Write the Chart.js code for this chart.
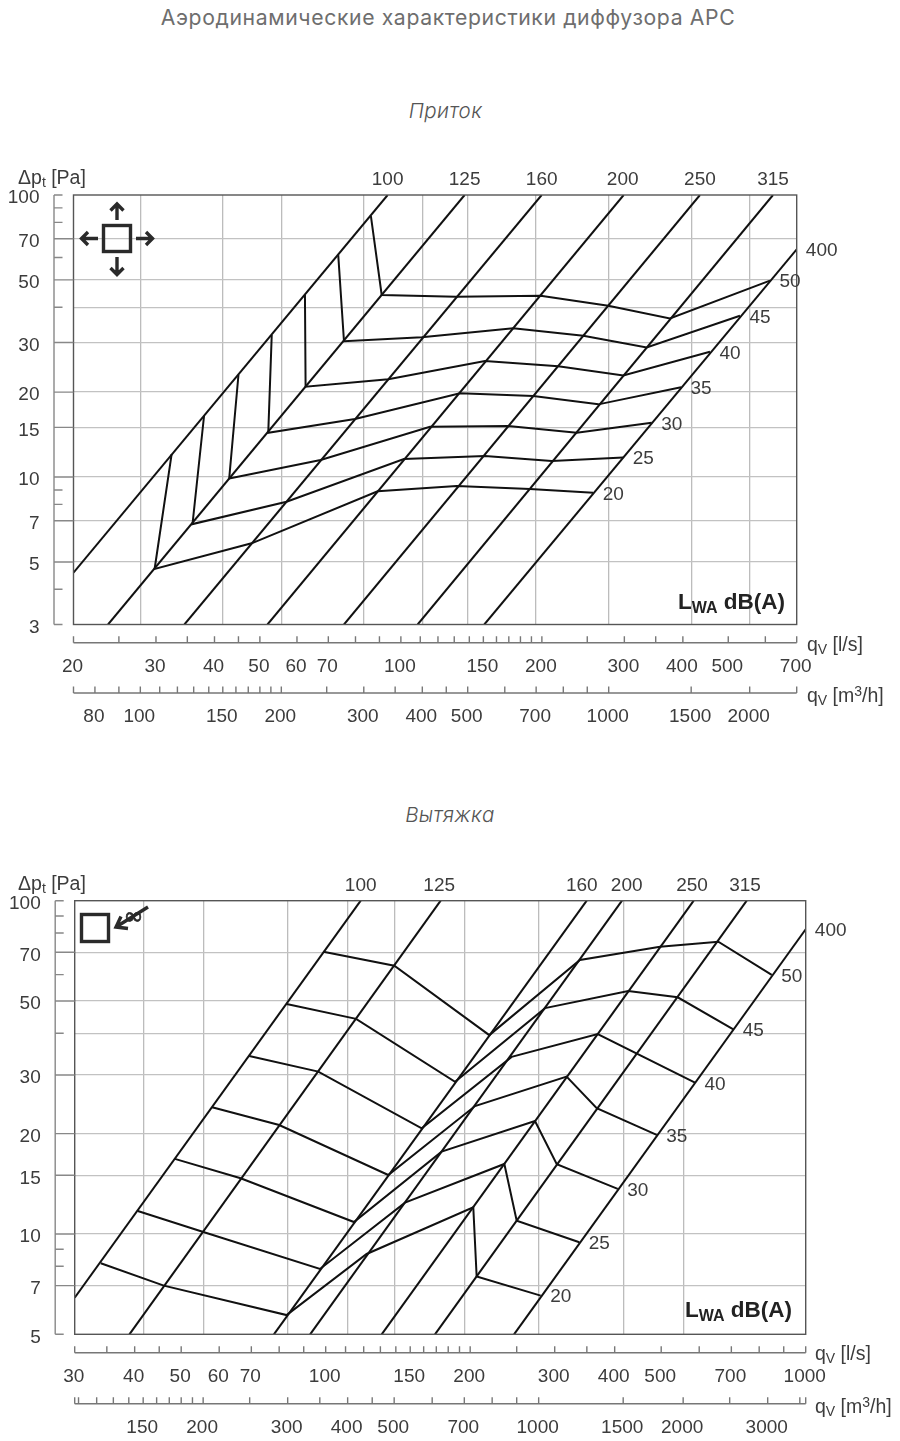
<!DOCTYPE html>
<html lang="ru">
<head>
<meta charset="utf-8">
<title>Аэродинамические характеристики диффузора АРС</title>
<script src="https://cdn.jsdelivr.net/npm/chart.js@4/dist/chart.umd.min.js"></script>
<style>
  html, body { margin: 0; padding: 0; background: #fff; }
  body { position: relative; width: 900px; height: 1441px; overflow: hidden; }
  canvas { position: absolute; left: 0; }
  #supplyChart { top: 150px; }
  #exhaustChart { top: 860px; }
  h1, h2 { position: absolute; left: 0; margin: 0; text-align: center; color: #6e6e6e; font-family: Inter, sans-serif; }
  h1 { top: 5px; width: 896px; font-size: 21.2px; line-height: 24px; font-weight: 400; letter-spacing: 0.62px; }
  h2 { font-size: 20.5px; line-height: 22px; font-weight: 300; font-style: italic; color: #555; letter-spacing: 0.4px; }
  .lbl { position: absolute; font: 19.5px/18px "Liberation Sans", sans-serif; color: #3c3c3c; white-space: nowrap; }
  .lbl sub { font-size: 14px; line-height: 0; vertical-align: -3px; }
  .lbl sup { font-size: 14px; line-height: 0; vertical-align: 6px; }
  .lwa { font-weight: bold; font-size: 22.5px; line-height: 21px; color: #222; }
  .lwa sub { font-size: 16px; vertical-align: -4px; }
  svg { position: absolute; left: 0; top: 0; }
</style>
</head>
<body>
<h1>Аэродинамические характеристики диффузора АРС</h1>
<h2 style="top:100px;width:891px">Приток</h2>
<h2 style="top:804px;width:900px">Вытяжка</h2>

<canvas id="supplyChart" width="900" height="590"></canvas>
<canvas id="exhaustChart" width="900" height="581"></canvas>

<div class="lbl" style="left:18px;top:168px">Δp<sub>t</sub> [Pa]</div>
<div class="lbl" style="left:807px;top:635px">q<sub>V</sub> [l/s]</div>
<div class="lbl" style="left:807px;top:686px">q<sub>V</sub> [m<sup>3</sup>/h]</div>
<div class="lbl lwa" style="left:678px;top:591px">L<sub>WA</sub> dB(A)</div>

<div class="lbl" style="left:18px;top:874px">Δp<sub>t</sub> [Pa]</div>
<div class="lbl" style="left:815px;top:1344px">q<sub>V</sub> [l/s]</div>
<div class="lbl" style="left:815px;top:1397px">q<sub>V</sub> [m<sup>3</sup>/h]</div>
<div class="lbl lwa" style="left:685px;top:1299px">L<sub>WA</sub> dB(A)</div>

<svg width="900" height="1441" fill="none" stroke="#2a2a2a" stroke-width="3.4">
  <rect x="103.500" y="225.500" width="27" height="26"/>
  <path d="M117 220V204M110.500 210.500l6.500-6.500 6.500 6.500M117 257V274M110.500 268l6.500 6.500 6.500-6.500M98 238.500H81.500M88 232l-6.500 6.500 6.500 6.500M136 238.500H152.500M146 232l6.500 6.500-6.500 6.500"/>
  <rect x="81.500" y="914.500" width="27" height="27"/>
  <path d="M148 907L116 927M128 928.500L116 927L121 916.500"/>
  <text x="123.500" y="923.500" font-family="DejaVu Sans" font-size="24" fill="#2a2a2a" stroke="#2a2a2a" stroke-width="0.6">∞</text>
</svg>

<script>
// ---- Приток: l/s and Pa
const supplyDuctLabels = ['100', '125', '160', '200', '250', '315', '400'];
const supplyDuct100 = [[20, 4.58], [93.7, 100]];
const supplyDuct125 = [[23.7, 3], [136.8, 100]];
const supplyDuct160 = [[34.5, 3], [199.8, 100]];
const supplyDuct200 = [[51.9, 3], [299, 100]];
const supplyDuct250 = [[75.6, 3], [435, 100]];
const supplyDuct315 = [[108.6, 3], [623, 100]];
const supplyDuct400 = [[150.7, 3], [700, 64.2]];

const supplyDbLabels = ['20', '25', '30', '35', '40', '45', '50'];
const supplyDb20 = [[32.4, 12.06], [29.8, 4.72], [48, 5.82], [89.2, 8.9], [131.6, 9.29], [188.6, 9.07], [257.4, 8.8]];
const supplyDb25 = [[38, 16.49], [35.9, 6.81], [57, 8.17], [101.5, 11.58], [151.2, 11.87], [209.9, 11.4], [298.5, 11.74]];
const supplyDb30 = [[45, 23], [43, 9.89], [67.4, 11.49], [115.4, 15.08], [169.5, 15.17], [237.4, 14.36], [343.2, 15.58]];
const supplyDb35 = [[53, 31.9], [52.1, 14.36], [79.8, 16.06], [133.7, 19.81], [191.7, 19.37], [264, 18.1], [396.4, 20.8]];
const supplyDb40 = [[62.4, 44.2], [62.6, 20.9], [94, 22.2], [151.2, 25.8], [216.8, 24.7], [298.5, 22.9], [457, 27.8]];
const supplyDb45 = [[73.5, 61.2], [75.6, 30.3], [110.8, 31.3], [173.7, 33.7], [245.2, 31.7], [334.8, 28.8], [529.6, 37.3]];
const supplyDb50 = [[86.3, 84.2], [91, 44.2], [131.1, 43.6], [198.8, 43.9], [277.2, 40.5], [375.4, 36.5], [613.8, 49.7]];

const supplyLsTicks = [20, 25, 30, 35, 40, 45, 50, 60, 70, 80, 90, 100, 110, 120, 130, 140, 150, 160, 170, 180, 190, 200, 250, 300, 350, 400, 500, 600, 700];
const supplyLsLabels = [20, 30, 40, 50, 60, 70, 100, 150, 200, 300, 400, 500, 700];
const supplyM3Ticks = [72, 80, 90, 100, 110, 120, 130, 140, 150, 160, 170, 180, 190, 200, 250, 300, 350, 400, 450, 500, 600, 700, 800, 900, 1000, 1500, 2000, 2520];
const supplyM3Labels = [80, 100, 150, 200, 300, 400, 500, 700, 1000, 1500, 2000];
const supplyM3Grid = [100, 150, 200, 300, 400, 500, 700, 1000, 1500, 2000];
const supplyPaGrid = [70, 50, 40, 30, 20, 15, 10, 7, 5];
const supplyPaTicks = [100, 90, 80, 70, 60, 50, 40, 30, 20, 15, 10, 9, 8, 7, 5, 4, 3];
const supplyPaLabels = [100, 70, 50, 30, 20, 15, 10, 7, 5, 3];
const supplyPaLong = [70, 50, 30, 20, 15, 10, 7, 5];

// ---- Вытяжка
const exhaustDuctLabels = ['100', '125', '160', '200', '250', '315', '400'];
const exhaustDuct100 = [[30, 6.44], [118.3, 100]];
const exhaustDuct125 = [[39, 5], [173.6, 100]];
const exhaustDuct160 = [[78, 5], [349.8, 100]];
const exhaustDuct200 = [[92.8, 5], [414.3, 100]];
const exhaustDuct250 = [[130.8, 5], [584.4, 100]];
const exhaustDuct315 = [[168.9, 5], [753.6, 100]];
const exhaustDuct400 = [[246.8, 5], [1000, 82.1]];

const exhaustDbLabels = ['20', '25', '30', '35', '40', '45', '50'];
const exhaustDb20 = [[34, 8.17], [46, 7], [82.9, 5.71], [121.7, 8.71], [203, 12.03], [206.3, 7.45], [280.5, 6.53]];
const exhaustDb25 = [[40.6, 11.72], [55.4, 10.16], [97.3, 7.85], [146.3, 12.42], [235.6, 16.22], [250, 10.96], [337.6, 9.44]];
const exhaustDb30 = [[48.5, 16.8], [66.5, 14.7], [114.5, 10.86], [174.4, 17.66], [272.9, 21.83], [303, 16.19], [405.9, 13.65]];
const exhaustDb35 = [[58, 24], [80, 21.23], [135, 15.03], [204.7, 24.2], [317.6, 29.65], [367, 23.83], [489.3, 19.82]];
const exhaustDb40 = [[69.3, 34.2], [96.5, 30.7], [158.5, 20.75], [244, 34], [368.7, 39.8], [588, 28.44]];
const exhaustDb45 = [[82.9, 49], [115.7, 44.2], [186, 28.6], [286.4, 47.6], [426.9, 53.6], [541.2, 51.3], [706.8, 41.1]];
const exhaustDb50 = [[98.9, 70.3], [139, 63.8], [219.2, 39.5], [338.6, 66.4], [497.1, 72.8], [657.6, 75.3], [849.6, 59.9]];

const exhaustLsTicks = [30, 35, 40, 45, 50, 60, 70, 80, 90, 100, 110, 120, 130, 140, 150, 160, 170, 180, 190, 200, 250, 300, 350, 400, 500, 600, 700, 800, 900, 1000];
const exhaustLsLabels = [30, 40, 50, 60, 70, 100, 150, 200, 300, 400, 500, 700, 1000];
const exhaustM3Ticks = [108, 110, 120, 130, 140, 150, 160, 170, 180, 190, 200, 250, 300, 350, 400, 450, 500, 600, 700, 800, 900, 1000, 1500, 2000, 2500, 3000, 3500, 3600];
const exhaustM3Labels = [150, 200, 300, 400, 500, 700, 1000, 1500, 2000, 3000];
const exhaustM3Grid = [150, 200, 300, 400, 500, 700, 1000, 1500, 2000];
const exhaustPaGrid = [70, 50, 40, 30, 20, 15, 10, 7];
const exhaustPaTicks = [100, 90, 80, 70, 60, 50, 40, 30, 20, 15, 10, 9, 8, 7, 5];
const exhaustPaLabels = [100, 70, 50, 30, 20, 15, 10, 7, 5];
const exhaustPaLong = [70, 50, 30, 20, 15, 10, 7];

const FONT = '19px "Liberation Sans", sans-serif';
const TEXT = '#3c3c3c';

function toPoints(line) {
    return line.map(p => ({ x: p[0], y: p[1] }));
}

function lineSet(line) {
    return {
        data: toPoints(line),
        showLine: true,
        borderColor: '#111',
        borderWidth: 2,
        pointRadius: 0,
        tension: 0,
        borderJoinStyle: 'miter',
        xAxisID: 'x',
        yAxisID: 'y'
    };
}

// draws the detached rulers under and beside the plot, and the line labels
const rulers = {
    id: 'rulers',
    afterDatasetsDraw(chart, args, o) {
        const ctx = chart.ctx;
        const a = chart.chartArea;
        const x = chart.scales.x;
        const m3 = chart.scales.m3;
        const y = chart.scales.y;

        ctx.save();
        ctx.strokeStyle = '#555';
        ctx.lineWidth = 1.4;
        ctx.strokeRect(a.left, a.top, a.right - a.left, a.bottom - a.top);

        ctx.font = FONT;
        ctx.fillStyle = TEXT;
        ctx.textBaseline = 'middle';

        function hRuler(scale, ticks, labels, rulerY, labelY) {
            ctx.strokeStyle = '#777';
            ctx.lineWidth = 1.4;
            ctx.beginPath();
            ctx.moveTo(a.left, rulerY);
            ctx.lineTo(a.right, rulerY);
            ticks.forEach(v => {
                const px = scale.getPixelForValue(v);
                ctx.moveTo(px, rulerY);
                ctx.lineTo(px, rulerY - 6.500);
            });
            ctx.stroke();
            ctx.textAlign = 'center';
            labels.forEach(v => ctx.fillText(String(v), scale.getPixelForValue(v) - 1, labelY));
        }
        hRuler(x, o.lsTicks, o.lsLabels, a.bottom + o.lsOffset, a.bottom + o.lsOffset + 24);
        hRuler(m3, o.m3Ticks, o.m3Labels, a.bottom + o.m3Offset, a.bottom + o.m3Offset + 24);

        // pressure ruler
        const yLeft = a.left - 19.5;
        ctx.strokeStyle = '#888';
        ctx.lineWidth = 1.4;
        ctx.beginPath();
        ctx.moveTo(yLeft, a.top);
        ctx.lineTo(yLeft, a.bottom);
        o.paTicks.forEach(v => {
            const py = y.getPixelForValue(v);
            ctx.moveTo(yLeft, py);
            ctx.lineTo(o.paLong.includes(v) ? a.left : yLeft + 8.500, py);
        });
        ctx.stroke();
        ctx.textAlign = 'right';
        o.paLabels.forEach(v => ctx.fillText(String(v), a.left - 34, y.getPixelForValue(v) + 3));

        // duct size labels: over the top end of each line, the last one beside its end
        ctx.textAlign = 'center';
        o.ductLines.forEach((line, i) => {
            const end = line[line.length - 1];
            const px = x.getPixelForValue(end[0]);
            const py = y.getPixelForValue(end[1]);
            if (i === o.ductLines.length - 1) {
                ctx.fillText(o.ductLabels[i], px + 25, py + 1.5);
            } else {
                ctx.fillText(o.ductLabels[i], px + o.ductNudge[i], a.top - 15);
            }
        });

        // sound level labels: after the right end of each line
        o.dbLines.forEach((line, i) => {
            const end = line[line.length - 1];
            ctx.fillText(o.dbLabels[i], x.getPixelForValue(end[0]) + 20, y.getPixelForValue(end[1]) + 1.600);
        });
        ctx.restore();
    }
};

function makeChart(id, cfg) {
    const ductLines = cfg.ductLines;
    const dbLines = cfg.dbLines;
    return new Chart(document.getElementById(id).getContext('2d'), {
        type: 'scatter',
        data: { datasets: ductLines.concat(dbLines).map(lineSet) },
        plugins: [rulers],
        options: {
            responsive: false,
            animation: false,
            devicePixelRatio: 1,
            layout: { padding: cfg.padding },
            plugins: {
                legend: { display: false },
                tooltip: { enabled: false },
                rulers: Object.assign({}, cfg)
            },
            scales: {
                x: {
                    type: 'logarithmic',
                    min: cfg.xMin,
                    max: cfg.xMax,
                    position: 'bottom',
                    grid: { display: false, drawTicks: false },
                    border: { display: false },
                    ticks: { display: false }
                },
                // same axis in m3/h; the vertical grid belongs to it
                m3: {
                    type: 'logarithmic',
                    axis: 'x',
                    min: cfg.m3Min,
                    max: cfg.m3Max,
                    position: 'bottom',
                    afterBuildTicks: scale => { scale.ticks = cfg.m3Grid.map(v => ({ value: v })); },
                    grid: { color: '#bcbcbc', lineWidth: 1.3, drawTicks: false },
                    border: { display: false },
                    ticks: { display: false }
                },
                y: {
                    type: 'logarithmic',
                    min: cfg.yMin,
                    max: 100,
                    position: 'left',
                    afterBuildTicks: scale => { scale.ticks = cfg.paGrid.map(v => ({ value: v })); },
                    grid: { color: '#c2c2c2', lineWidth: 1.3, drawTicks: false },
                    border: { display: false },
                    ticks: { display: false }
                }
            }
        }
    });
}

makeChart('supplyChart', {
    padding: { left: 73.5, right: 103.3, top: 45, bottom: 115.5 },
    xMin: 20, xMax: 700, m3Min: 72, m3Max: 2520, yMin: 3,
    ductLines: [supplyDuct100, supplyDuct125, supplyDuct160, supplyDuct200, supplyDuct250, supplyDuct315, supplyDuct400],
    ductLabels: supplyDuctLabels,
    ductNudge: [0, 0, 0, -1, 0, 0],
    dbLines: [supplyDb20, supplyDb25, supplyDb30, supplyDb35, supplyDb40, supplyDb45, supplyDb50],
    dbLabels: supplyDbLabels,
    lsTicks: supplyLsTicks, lsLabels: supplyLsLabels, lsOffset: 18.2,
    m3Ticks: supplyM3Ticks, m3Labels: supplyM3Labels, m3Offset: 68.5,
    m3Grid: supplyM3Grid, paGrid: supplyPaGrid,
    paTicks: supplyPaTicks, paLabels: supplyPaLabels, paLong: supplyPaLong
});

makeChart('exhaustChart', {
    padding: { left: 74.7, right: 94.3, top: 40.7, bottom: 106.7 },
    xMin: 30, xMax: 1000, m3Min: 108, m3Max: 3600, yMin: 5,
    ductLines: [exhaustDuct100, exhaustDuct125, exhaustDuct160, exhaustDuct200, exhaustDuct250, exhaustDuct315, exhaustDuct400],
    ductLabels: exhaustDuctLabels,
    ductNudge: [0, -1.5, -5, 4.7, -1.7, -1.7],
    dbLines: [exhaustDb20, exhaustDb25, exhaustDb30, exhaustDb35, exhaustDb40, exhaustDb45, exhaustDb50],
    dbLabels: exhaustDbLabels,
    lsTicks: exhaustLsTicks, lsLabels: exhaustLsLabels, lsOffset: 18.4,
    m3Ticks: exhaustM3Ticks, m3Labels: exhaustM3Labels, m3Offset: 69.4,
    m3Grid: exhaustM3Grid, paGrid: exhaustPaGrid,
    paTicks: exhaustPaTicks, paLabels: exhaustPaLabels, paLong: exhaustPaLong
});
</script>
</body>
</html>
